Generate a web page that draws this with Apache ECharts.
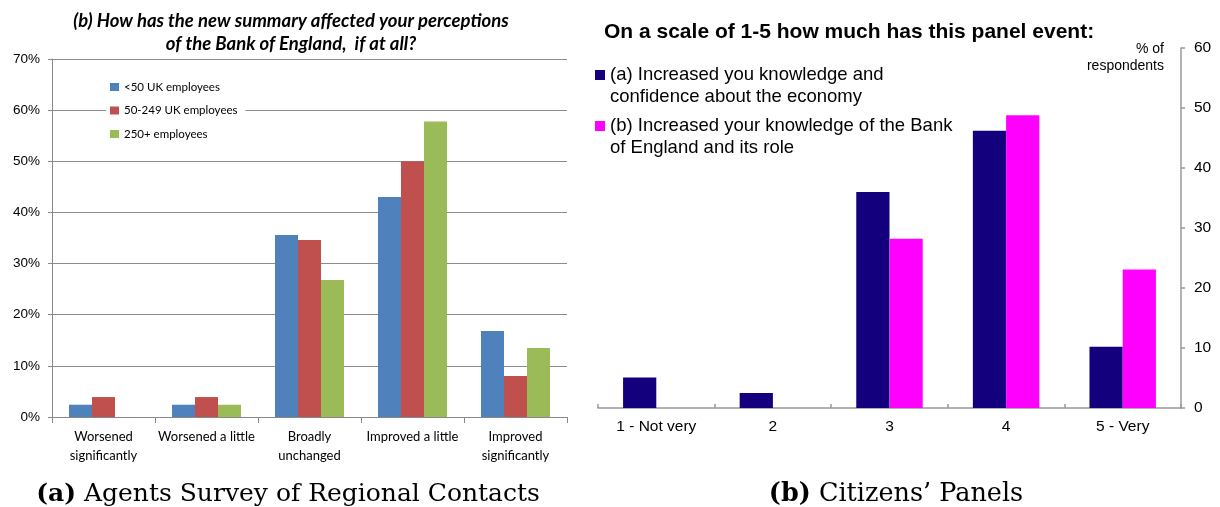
<!DOCTYPE html>
<html>
<head>
<meta charset="utf-8">
<script src="https://cdn.jsdelivr.net/npm/echarts@6/dist/echarts.min.js"></script>
<style>
  html, body { margin: 0; padding: 0; background: #ffffff; }
  #chart { width: 1220px; height: 507px; }
</style>
</head>
<body>
<div id="chart"></div>
<script>
// ---- Panel (a): Agents Survey of Regional Contacts ----
const leftCategories = ['Worsened\nsignificantly', 'Worsened a little', 'Broadly\nunchanged', 'Improved a little', 'Improved\nsignificantly'];
const leftSeriesNames = ['<50 UK employees', '50-249 UK employees', '250+ employees'];
const leftSmall = [2.4, 2.4, 35.6, 43.0, 16.8];
const leftMedium = [3.9, 3.9, 34.6, 50.0, 8.0];
const leftLarge = [0, 2.4, 26.8, 57.8, 13.5];
const leftTicks = { min: 0, max: 70, interval: 10 };
const leftTitle = ['(b) How has the new summary affected your perceptions', 'of the Bank of England,  if at all?'];

// ---- Panel (b): Citizens' Panels ----
const rightCategories = ['1 - Not very', '2', '3', '4', '5 - Very'];
const rightSeriesNames = ['(a) Increased you knowledge and confidence about the economy', '(b) Increased your knowledge of the Bank of England and its role'];
const rightLegendLines = [['(a) Increased you knowledge and', 'confidence about the economy'], ['(b) Increased your knowledge of the Bank', 'of England and its role']];
const rightEconomy = [5.1, 2.5, 36.0, 46.2, 10.2];
const rightBank = [0, 0, 28.2, 48.8, 23.1];
const rightTicks = { min: 0, max: 60, interval: 10 };
const rightTitle = 'On a scale of 1-5 how much has this panel event:';
const rightUnit = ['% of', 'respondents'];

const captionA = ['(a)', 'Agents Survey of Regional Contacts'];
const captionB = ['(b)', 'Citizens\u2019 Panels'];

const chart = echarts.init(document.getElementById('chart'), null, { renderer: 'canvas' });

const leftColors = ['#4F81BD', '#C0504D', '#9BBB59'];
const rightColors = ['#12007C', '#FF00FF'];
const calibri = 'Lato, "Open Sans", sans-serif';
const arial = '"Liberation Sans", Arial, sans-serif';
const serif = '"DejaVu Serif", serif';

function rightLegend(i, top) {
  return {
    data: [rightSeriesNames[i]],
    orient: 'vertical',
    left: 595,
    top: top,
    padding: 0,
    icon: 'rect',
    itemWidth: 10,
    itemHeight: 10,
    // a blank first line keeps the marker level with the first text line
    formatter: () => '\u00a0\n' + rightLegendLines[i].join('\n'),
    textStyle: { fontFamily: arial, fontSize: 18.5, color: '#000', lineHeight: 22 }
  };
}

const option = {
  backgroundColor: '#ffffff',
  animation: false,
  grid: [
    { left: 52, top: 59, width: 515, height: 358, containLabel: false },
    { left: 598, top: 48, width: 583, height: 360, containLabel: false }
  ],
  legend: [
    {
      data: leftSeriesNames,
      orient: 'vertical',
      left: 106,
      top: 76,
      padding: [4, 8, 4, 4],
      backgroundColor: '#ffffff',
      icon: 'rect',
      itemWidth: 9,
      itemHeight: 8,
      itemGap: 9.5,
      textStyle: { fontFamily: calibri, fontSize: 11.5, color: '#000', lineHeight: 14 }
    },
    rightLegend(0, 42),
    rightLegend(1, 93)
  ],
  xAxis: [
    {
      type: 'category',
      gridIndex: 0,
      data: leftCategories,
      axisLine: { show: true, lineStyle: { color: '#888888', width: 1 } },
      axisTick: { show: true, inside: false, length: 6, lineStyle: { color: '#888888' } },
      axisLabel: { fontFamily: calibri, fontSize: 13, color: '#000', margin: 10, lineHeight: 19, interval: 0 },
      splitLine: { show: false }
    },
    {
      type: 'category',
      gridIndex: 1,
      data: rightCategories,
      axisLine: { show: true, lineStyle: { color: '#999999', width: 1.5 } },
      axisTick: { show: true, inside: true, length: 4, lineStyle: { color: '#999999', width: 1.5 } },
      axisLabel: { fontFamily: arial, fontSize: 15.5, color: '#000', margin: 11, interval: 0 },
      splitLine: { show: false }
    }
  ],
  yAxis: [
    {
      type: 'value',
      gridIndex: 0,
      min: leftTicks.min,
      max: leftTicks.max,
      interval: leftTicks.interval,
      axisLine: { show: true, lineStyle: { color: '#888888', width: 1 } },
      axisTick: { show: true, inside: false, length: 4, lineStyle: { color: '#888888' } },
      axisLabel: { fontFamily: arial, fontSize: 13.5, color: '#000', margin: 12, formatter: v => v + '%' },
      splitLine: { show: true, lineStyle: { color: '#8C8C8C', width: 1.2 } }
    },
    {
      type: 'value',
      gridIndex: 1,
      position: 'right',
      min: rightTicks.min,
      max: rightTicks.max,
      interval: rightTicks.interval,
      axisLine: { show: true, lineStyle: { color: '#999999', width: 1.5 } },
      axisTick: { show: true, inside: false, length: 4, lineStyle: { color: '#999999', width: 1.5 } },
      axisLabel: { fontFamily: arial, fontSize: 15.5, color: '#000', margin: 13 },
      splitLine: { show: false }
    }
  ],
  series: [
    { name: leftSeriesNames[0], type: 'bar', xAxisIndex: 0, yAxisIndex: 0, data: leftSmall, barGap: '0%', barCategoryGap: '33%', itemStyle: { color: leftColors[0] } },
    { name: leftSeriesNames[1], type: 'bar', xAxisIndex: 0, yAxisIndex: 0, data: leftMedium, barGap: '0%', barCategoryGap: '33%', itemStyle: { color: leftColors[1] } },
    { name: leftSeriesNames[2], type: 'bar', xAxisIndex: 0, yAxisIndex: 0, data: leftLarge, barGap: '0%', barCategoryGap: '33%', itemStyle: { color: leftColors[2] } },
    { name: rightSeriesNames[0], type: 'bar', xAxisIndex: 1, yAxisIndex: 1, data: rightEconomy, barGap: '0%', barCategoryGap: '43%', itemStyle: { color: rightColors[0] } },
    { name: rightSeriesNames[1], type: 'bar', xAxisIndex: 1, yAxisIndex: 1, data: rightBank, barGap: '0%', barCategoryGap: '43%', itemStyle: { color: rightColors[1] } }
  ],
  graphic: [
    { type: 'text', silent: true, style: { x: 291, y: 21, text: leftTitle[0], textAlign: 'center', textVerticalAlign: 'middle', fontFamily: calibri, fontSize: 18.5, fontWeight: 'bold', fontStyle: 'italic', fill: '#000' } },
    { type: 'text', silent: true, style: { x: 291, y: 44, text: leftTitle[1], textAlign: 'center', textVerticalAlign: 'middle', fontFamily: calibri, fontSize: 18.5, fontWeight: 'bold', fontStyle: 'italic', fill: '#000' } },
    { type: 'text', silent: true, style: { x: 604, y: 32, text: rightTitle, textAlign: 'left', textVerticalAlign: 'middle', fontFamily: arial, fontSize: 21, fontWeight: 'bold', fill: '#000' } },
    { type: 'text', silent: true, style: { x: 1164, y: 49, text: rightUnit[0], textAlign: 'right', textVerticalAlign: 'middle', fontFamily: arial, fontSize: 14, fill: '#000' } },
    { type: 'text', silent: true, style: { x: 1164, y: 66, text: rightUnit[1], textAlign: 'right', textVerticalAlign: 'middle', fontFamily: arial, fontSize: 14, fill: '#000' } },
    { type: 'text', silent: true, style: { x: 288, y: 494, text: '{b|' + captionA[0] + '} ' + captionA[1], textAlign: 'center', textVerticalAlign: 'middle', fontFamily: serif, fontSize: 25, fill: '#000', rich: { b: { fontFamily: serif, fontSize: 25, fontWeight: 'bold' } } } },
    { type: 'text', silent: true, style: { x: 896, y: 494, text: '{b|' + captionB[0] + '} ' + captionB[1], textAlign: 'center', textVerticalAlign: 'middle', fontFamily: serif, fontSize: 25.5, fill: '#000', rich: { b: { fontFamily: serif, fontSize: 25.5, fontWeight: 'bold' } } } }
  ]
};

chart.setOption(option);
</script>
</body>
</html>
